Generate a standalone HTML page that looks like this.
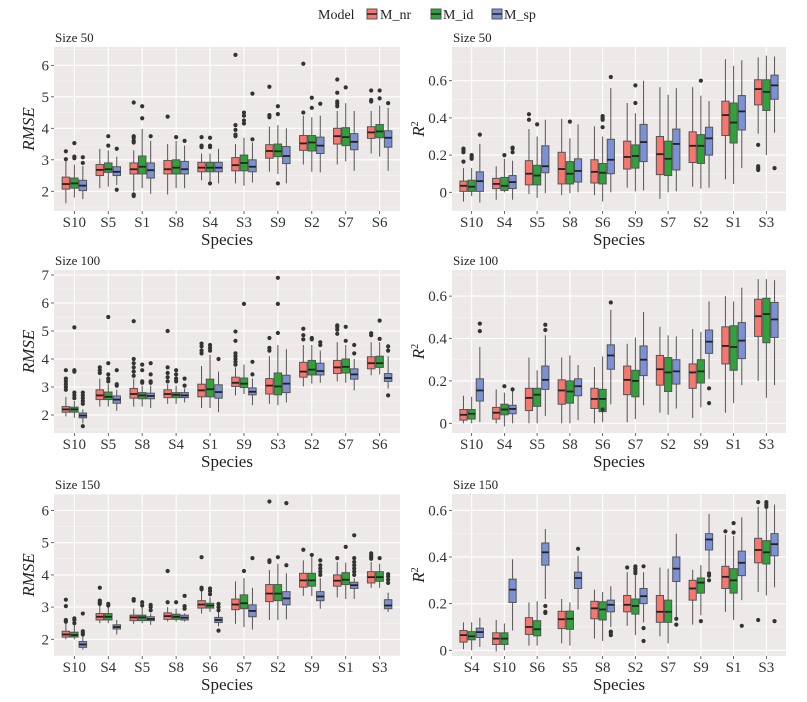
<!DOCTYPE html>
<html><head><meta charset="utf-8">
<style>
html,body{margin:0;padding:0;background:#fff;}
svg{display:block;font-family:"Liberation Serif",serif;}
</style></head>
<body>
<svg id="chart" width="807" height="702" viewBox="0 0 807 702" xmlns="http://www.w3.org/2000/svg">
  <rect x="0" y="0" width="807" height="702" fill="#fff"/>
  <g>
    <text x="318" y="19" font-size="14" fill="#222">Model</text>
    <g>
      <rect x="367" y="9" width="10" height="10" fill="#F8766D" stroke="#555" stroke-width="1"/>
      <line x1="367" y1="14" x2="377" y2="14" stroke="#222" stroke-width="1.5"/>
      <text x="380" y="19" font-size="14" fill="#222">M_nr</text>
    </g>
    <g>
      <rect x="431" y="9" width="10" height="10" fill="#2FA23A" stroke="#555" stroke-width="1"/>
      <line x1="431" y1="14" x2="441" y2="14" stroke="#222" stroke-width="1.5"/>
      <text x="443" y="19" font-size="14" fill="#222">M_id</text>
    </g>
    <g>
      <rect x="492" y="9" width="10" height="10" fill="#7B91D3" stroke="#555" stroke-width="1"/>
      <line x1="492" y1="14" x2="502" y2="14" stroke="#222" stroke-width="1.5"/>
      <text x="504" y="19" font-size="14" fill="#222">M_sp</text>
    </g>
  </g>
  <g id="panels"></g>
</svg>
<script>
// ---- Panel 1: RMSE, Size 50 ----
const p1_cats = ["S10","S5","S1","S8","S4","S3","S9","S2","S7","S6"];
const p1_ticks = [2,3,4,5,6];
const p1_nr = [[1.62,2.07,2.23,2.45,3.0],[2.1,2.5,2.68,2.85,3.35],[2.0,2.55,2.7,2.9,3.3],[1.9,2.55,2.7,2.98,3.5],[2.35,2.62,2.75,2.92,3.2],[2.25,2.65,2.83,3.07,3.5],[2.62,3.05,3.28,3.48,4.05],[2.85,3.3,3.52,3.77,4.4],[2.85,3.5,3.75,4.0,4.55],[3.2,3.68,3.87,4.05,4.55]];
const p1_id = [[1.8,2.1,2.25,2.42,2.85],[2.15,2.6,2.7,2.9,3.3],[2.1,2.55,2.78,3.12,3.98],[2.1,2.55,2.75,3.0,3.6],[2.3,2.62,2.75,2.92,3.2],[2.18,2.65,2.9,3.15,3.7],[2.55,3.1,3.27,3.5,4.1],[2.62,3.28,3.55,3.77,4.35],[2.95,3.45,3.72,4.02,4.8],[3.1,3.7,3.9,4.12,4.72]];
const p1_sp = [[1.75,2.02,2.18,2.35,2.8],[2.2,2.5,2.62,2.78,3.1],[1.92,2.42,2.67,2.9,3.6],[2.1,2.55,2.7,2.95,3.45],[2.25,2.62,2.75,2.92,3.35],[2.28,2.62,2.78,3.0,3.55],[2.25,2.88,3.12,3.42,4.0],[2.6,3.2,3.45,3.72,4.4],[2.65,3.32,3.57,3.83,4.55],[2.65,3.4,3.7,3.92,4.65]];
const p1_nr_out = [[3.02,3.27],[],[1.85,1.9,3.55,3.6,3.7,3.75,4.82],[4.37],[3.4,3.45,3.72],[3.75,3.8,3.95,4.1,6.33],[4.35,4.42,5.32],[4.5,6.05],[4.7,4.78,4.85,5.13,5.55],[4.85,4.9,5.2]];
const p1_id_out = [[3.05,3.1,3.53],[3.45,3.75],[4.32,4.7],[3.72],[2.25,3.4,3.45,3.7],[4.15,4.25,4.4,4.5],[2.25,4.45,4.7],[4.65,4.97],[5.3],[4.95,5.2]];
const p1_sp_out = [[2.9,3.08],[2.05,3.35],[3.75],[3.6],[],[3.65,5.1],[],[4.78],[],[4.8]];

// ---- Panel 2: R2, Size 50 ----
const p2_cats = ["S10","S4","S5","S8","S6","S9","S7","S2","S1","S3"];
const p2_ticks = [0,0.2,0.4,0.6];
const p2_nr = [[-0.05,0.005,0.035,0.06,0.13],[-0.04,0.02,0.045,0.075,0.14],[-0.01,0.04,0.1,0.17,0.34],[-0.015,0.045,0.125,0.215,0.395],[-0.015,0.05,0.11,0.175,0.355],[0.025,0.125,0.19,0.275,0.48],[-0.035,0.095,0.205,0.3,0.565],[0.03,0.16,0.25,0.325,0.565],[0.07,0.305,0.415,0.49,0.715],[0.315,0.47,0.555,0.605,0.725]];
const p2_id = [[-0.02,0.005,0.03,0.065,0.13],[0.0,0.01,0.035,0.08,0.18],[-0.03,0.04,0.09,0.145,0.3],[-0.005,0.045,0.1,0.165,0.29],[-0.05,0.045,0.105,0.155,0.3],[0.005,0.13,0.195,0.255,0.425],[0.0,0.09,0.18,0.275,0.525],[0.02,0.155,0.25,0.31,0.52],[0.045,0.265,0.375,0.48,0.68],[0.2,0.44,0.54,0.605,0.735]];
const p2_sp = [[-0.055,0.005,0.06,0.11,0.26],[-0.04,0.02,0.055,0.09,0.17],[-0.005,0.105,0.14,0.25,0.39],[0.0,0.055,0.115,0.18,0.365],[0.0,0.1,0.175,0.285,0.56],[0.01,0.165,0.27,0.365,0.6],[0.005,0.12,0.26,0.34,0.56],[0.025,0.2,0.29,0.35,0.49],[0.13,0.335,0.435,0.52,0.71],[0.32,0.5,0.575,0.63,0.73]];
const p2_nr_out = [[0.165,0.215,0.225,0.235],[],[0.39,0.42],[],[],[],[],[],[],[0.12,0.13,0.14,0.255]];
const p2_id_out = [[0.18,0.19,0.2],[0.2],[0.365],[0.38],[0.35,0.39,0.4,0.41],[0.48,0.575],[],[0.6],[],[]];
const p2_sp_out = [[0.31],[0.215,0.235,0.24],[],[],[0.62],[],[],[],[],[0.13]];

// ---- Panel 3: RMSE, Size 100 ----
const p3_cats = ["S10","S5","S8","S4","S1","S9","S3","S2","S7","S6"];
const p3_ticks = [2,3,4,5,6,7];
const p3_nr = [[1.95,2.1,2.2,2.3,2.65],[2.3,2.55,2.7,2.9,3.3],[2.3,2.6,2.75,2.95,3.3],[2.4,2.62,2.75,2.9,3.1],[2.25,2.65,2.88,3.1,3.75],[2.7,3.02,3.15,3.35,3.7],[2.4,2.75,3.05,3.3,4.1],[3.02,3.35,3.55,3.88,4.5],[3.2,3.48,3.7,3.95,4.6],[3.42,3.65,3.85,4.08,4.6]];
const p3_id = [[1.9,2.1,2.2,2.28,2.5],[2.3,2.55,2.65,2.82,3.1],[2.3,2.58,2.7,2.8,3.05],[2.4,2.62,2.72,2.8,3.05],[2.25,2.65,2.92,3.28,4.15],[2.75,2.98,3.12,3.32,3.8],[2.35,2.72,3.02,3.5,4.5],[3.12,3.43,3.62,3.95,4.5],[3.15,3.5,3.72,4.0,4.5],[3.45,3.7,3.85,4.1,4.6]];
const p3_sp = [[1.7,1.9,1.98,2.07,2.2],[2.15,2.42,2.55,2.68,2.9],[2.25,2.58,2.68,2.78,3.05],[2.45,2.62,2.7,2.8,2.95],[2.1,2.6,2.82,3.08,3.55],[2.35,2.72,2.83,2.97,3.3],[2.45,2.8,3.12,3.42,4.35],[3.15,3.43,3.57,3.85,4.3],[2.88,3.28,3.45,3.65,4.0],[2.95,3.2,3.32,3.48,4.1]];
const p3_nr_out = [[2.9,3.0,3.1,3.2,3.3,3.6],[3.5,3.6,3.7],[3.4,3.55,3.7,3.85,4.0,5.35],[3.2,3.35,3.5,3.7,5.0],[4.2,4.3,4.45,4.55],[3.8,3.9,4.0,4.1,4.2,4.65,4.98],[4.3,4.4,4.75],[4.7,4.85,5.08],[4.9,5.05,5.15,5.2],[4.85,4.92]];
const p3_id_out = [[2.6,2.7,2.8,3.55,3.6,5.13],[3.2,3.3,3.45,3.85,5.5],[3.15,3.2,3.6,3.8],[3.2,3.3,3.45,3.6],[4.3,4.4,4.5],[5.97],[4.93,5.97,6.9],[4.7,4.75],[4.65,5.15],[4.72,5.37]];
const p3_sp_out = [[1.6,2.4,2.5,2.6,2.7,2.8],[3.05,3.1,3.6],[3.15,3.2,3.45,3.85],[3.05,3.3],[4.0],[3.45,3.9],[],[4.5,4.6],[4.2,4.5],[2.7,4.3,4.45]];

// ---- Panel 4: R2, Size 100 ----
const p4_cats = ["S10","S4","S5","S8","S6","S7","S2","S9","S1","S3"];
const p4_ticks = [0,0.2,0.4,0.6];
const p4_nr = [[0.0,0.015,0.04,0.065,0.13],[0.0,0.02,0.05,0.075,0.16],[0.0,0.06,0.12,0.165,0.31],[0.0,0.09,0.155,0.205,0.31],[0.0,0.07,0.115,0.165,0.265],[0.005,0.135,0.205,0.27,0.375],[0.05,0.18,0.255,0.32,0.455],[0.025,0.165,0.24,0.28,0.445],[0.05,0.28,0.365,0.455,0.6],[0.2,0.41,0.505,0.585,0.68]];
const p4_id = [[0.0,0.02,0.045,0.065,0.125],[-0.015,0.04,0.065,0.09,0.145],[0.0,0.08,0.135,0.165,0.25],[0.0,0.095,0.15,0.2,0.32],[0.005,0.055,0.115,0.16,0.315],[0.02,0.125,0.2,0.25,0.405],[0.04,0.15,0.24,0.31,0.415],[0.075,0.19,0.245,0.3,0.43],[0.095,0.25,0.36,0.46,0.575],[0.12,0.38,0.515,0.59,0.68]];
const p4_sp = [[0.005,0.105,0.155,0.21,0.36],[0.0,0.045,0.068,0.085,0.16],[0.035,0.16,0.205,0.27,0.415],[0.015,0.13,0.175,0.21,0.275],[0.09,0.255,0.32,0.37,0.535],[0.085,0.225,0.3,0.365,0.525],[0.07,0.185,0.245,0.3,0.41],[0.21,0.33,0.385,0.44,0.575],[0.18,0.305,0.39,0.475,0.64],[0.18,0.405,0.49,0.57,0.675]];
const p4_nr_out = [[],[],[],[],[],[],[],[],[],[]];
const p4_id_out = [[],[0.175],[],[],[0.065],[],[],[],[],[]];
const p4_sp_out = [[0.435,0.47],[0.16],[0.44,0.465],[],[0.57],[],[],[0.095,0.165],[],[]];

// ---- Panel 5: RMSE, Size 150 ----
const p5_cats = ["S10","S4","S5","S8","S6","S7","S2","S9","S1","S3"];
const p5_ticks = [2,3,4,5,6];
const p5_nr = [[2.0,2.07,2.15,2.25,2.5],[2.5,2.6,2.7,2.8,3.05],[2.48,2.58,2.68,2.75,2.95],[2.55,2.62,2.72,2.82,3.0],[2.8,2.97,3.08,3.2,3.5],[2.48,2.92,3.08,3.25,3.8],[2.6,3.17,3.42,3.7,4.15],[3.35,3.62,3.83,4.05,4.45],[3.3,3.65,3.82,4.0,4.4],[3.6,3.75,3.93,4.1,4.4]];
const p5_id = [[2.0,2.07,2.13,2.22,2.45],[2.5,2.6,2.7,2.8,3.0],[2.5,2.58,2.68,2.75,2.98],[2.55,2.62,2.7,2.78,2.95],[2.85,2.97,3.05,3.12,3.3],[2.38,2.95,3.12,3.38,3.9],[2.6,3.2,3.42,3.7,4.35],[3.35,3.65,3.83,4.05,4.55],[3.25,3.7,3.85,4.07,4.38],[3.6,3.8,3.93,4.1,4.35]];
const p5_sp = [[1.68,1.75,1.84,1.93,2.1],[2.15,2.32,2.38,2.45,2.6],[2.45,2.58,2.63,2.7,2.8],[2.55,2.6,2.67,2.75,2.8],[2.4,2.52,2.6,2.68,2.85],[2.3,2.7,2.88,3.07,3.6],[2.62,3.07,3.27,3.48,4.05],[2.95,3.2,3.33,3.48,3.9],[3.25,3.58,3.68,3.77,3.9],[2.85,2.95,3.05,3.23,3.45]];
const p5_nr_out = [[2.55,2.6,3.03,3.23],[3.1,3.15,3.2,3.6],[3.2,3.25],[3.15,4.12],[3.55,3.6,4.55],[],[4.4,4.45,6.28],[4.78],[4.52],[4.5,4.55,4.6,4.67]];
const p5_id_out = [[2.5,2.6,2.65],[3.05,3.1],[3.05,3.15],[3.15],[3.4,3.5,3.58],[4.12],[4.55],[4.62],[4.87],[4.52]];
const p5_sp_out = [[2.15,2.2,2.25,2.8],[],[2.9,3.0,3.07],[2.95,3.03,3.35],[2.27,2.9,3.0,3.1],[4.52],[4.3,6.23],[4.0,4.1,4.2,4.3,4.45],[4.0,4.1,4.2,4.3,4.4,4.52,5.23],[3.75,3.85,3.95,4.02]];

// ---- Panel 6: R2, Size 150 ----
const p6_cats = ["S4","S10","S6","S5","S8","S2","S7","S9","S1","S3"];
const p6_ticks = [0,0.2,0.4,0.6];
const p6_nr = [[0.005,0.035,0.065,0.085,0.12],[-0.005,0.025,0.05,0.075,0.13],[0.02,0.068,0.1,0.14,0.205],[0.03,0.093,0.133,0.167,0.22],[0.05,0.135,0.18,0.21,0.26],[0.105,0.165,0.195,0.235,0.335],[0.06,0.12,0.165,0.235,0.355],[0.11,0.215,0.265,0.3,0.345],[0.165,0.265,0.315,0.36,0.495],[0.25,0.375,0.43,0.48,0.615]];
const p6_id = [[0.0,0.045,0.06,0.08,0.12],[0.0,0.025,0.05,0.075,0.115],[0.02,0.062,0.09,0.127,0.21],[0.02,0.09,0.135,0.168,0.205],[0.04,0.13,0.175,0.208,0.25],[0.065,0.155,0.19,0.22,0.32],[0.03,0.12,0.165,0.215,0.35],[0.15,0.245,0.29,0.31,0.365],[0.13,0.245,0.3,0.35,0.49],[0.235,0.37,0.42,0.47,0.61]];
const p6_sp = [[0.015,0.055,0.078,0.095,0.14],[0.085,0.205,0.26,0.305,0.39],[0.22,0.365,0.42,0.46,0.52],[0.175,0.265,0.31,0.335,0.405],[0.1,0.165,0.195,0.215,0.275],[0.12,0.2,0.232,0.265,0.335],[0.14,0.295,0.35,0.4,0.5],[0.34,0.43,0.475,0.5,0.585],[0.215,0.32,0.375,0.425,0.57],[0.27,0.405,0.455,0.5,0.625]];
const p6_nr_out = [[],[],[],[],[],[0.355],[],[],[0.51],[0.13,0.635]];
const p6_id_out = [[],[],[],[],[],[0.33,0.34,0.35,0.36],[],[0.125],[0.505,0.545],[0.615,0.625,0.635]];
const p6_sp_out = [[],[],[0.16,0.165,0.19],[0.435],[0.065,0.075,0.08],[0.04,0.095,0.36],[0.11,0.135],[0.3,0.32,0.33],[0.105],[0.125]];

const NS = "http://www.w3.org/2000/svg";
const COLORS = ["#F8766D","#2FA23A","#7B91D3"];
const MODEL_NAMES = ["m-nr","m-id","m-sp"];

function mk(tag, attrs, parent){
  const el = document.createElementNS(NS, tag);
  for (const k in attrs) el.setAttribute(k, attrs[k]);
  parent.appendChild(el);
  return el;
}

function drawPanel(cfg){
  const root = document.getElementById("panels");
  const g = mk("g", {}, root);
  
  
  const L = cfg.x0, R = cfg.x1, T = cfg.top, B = cfg.bottom;
  const n = cfg.cats.length;
  const band = (R - L) / (n + 0.2);
  const xc = i => L + band * (0.6 + i);
  const ys = v => cfg.yRef - (v - cfg.vRef) * cfg.pxPerUnit;

  const bg = mk("rect", {x:L, y:T, width:R-L, height:B-T, fill:"#ECE9E8"}, g);
  
  

  const step = cfg.ticks[1] - cfg.ticks[0];
  const vmin = cfg.vRef - (B - cfg.yRef) / cfg.pxPerUnit;
  const vmax = cfg.vRef + (cfg.yRef - T) / cfg.pxPerUnit;
  for (let v = cfg.ticks[0] - step/2; v <= vmax; v += step){
    if (v < vmin) continue;
    const ln = mk("line", {x1:L, x2:R, y1:ys(v), y2:ys(v), stroke:"#F7F6F5", "stroke-width":0.6}, g);
    
    
  }
  cfg.ticks.forEach(t => {
    const y = ys(t);
    const ln = mk("line", {x1:L, x2:R, y1:y, y2:y, stroke:"#fff", "stroke-width":1.1}, g);
    
    
    const tk = mk("line", {x1:L-3, x2:L, y1:y, y2:y, stroke:"#444", "stroke-width":0.8}, g);
    
    
    const tx = mk("text", {x:L-5, y:y+5, "text-anchor":"end", "font-size":15, fill:"#333"}, g);
    
    
    tx.textContent = String(t);
  });
  cfg.cats.forEach((c, i) => {
    const x = xc(i);
    const ln = mk("line", {x1:x, x2:x, y1:T, y2:B, stroke:"#fff", "stroke-width":1.1}, g);
    
    
    const tk = mk("line", {x1:x, x2:x, y1:B, y2:B+3, stroke:"#444", "stroke-width":0.8}, g);
    
    
    const tx = mk("text", {x:x, y:B+16, "text-anchor":"middle", "font-size":15, fill:"#333"}, g);
    
    
    tx.textContent = c;
  });

  const series = [cfg.nr, cfg.id, cfg.sp];
  const outs = [cfg.nrOut, cfg.idOut, cfg.spOut];
  const gw = band * 0.75, bw = gw / 3;
  cfg.cats.forEach((c, i) => {
    for (let m = 0; m < 3; m++){
      const s = series[m][i];
      const cx = xc(i) - gw/2 + bw*(m + 0.5);
      const bx = mk("g", {}, g);
      
      
      mk("line", {x1:cx, x2:cx, y1:ys(s[0]), y2:ys(s[1]), stroke:"#555", "stroke-width":1}, bx);
      mk("line", {x1:cx, x2:cx, y1:ys(s[3]), y2:ys(s[4]), stroke:"#555", "stroke-width":1}, bx);
      mk("rect", {x:cx-bw/2+0.5, y:ys(s[3]), width:bw-1, height:Math.max(0.5, ys(s[1])-ys(s[3])), fill:COLORS[m], stroke:"#555", "stroke-width":1}, bx);
      mk("line", {x1:cx-bw/2+0.5, x2:cx+bw/2-0.5, y1:ys(s[2]), y2:ys(s[2]), stroke:"#222", "stroke-width":1.8}, bx);
      outs[m][i].forEach(v => {
        mk("circle", {cx:cx, cy:ys(v), r:2.1, fill:"#333"}, bx);
      });
    }
  });

  const st = mk("text", {x:L+1, y:T-5, "font-size":13, fill:"#222"}, g);
  
  
  st.textContent = cfg.title;
  const xt = mk("text", {x:(L+R)/2, y:B+34, "text-anchor":"middle", "font-size":17, fill:"#222"}, g);
  
  
  xt.textContent = "Species";
  const ym = (T+B)/2;
  const yt = mk("text", {x:cfg.ytx, y:ym, "text-anchor":"middle", "font-size":17, fill:"#222", "font-style":"italic", transform:"rotate(-90 "+cfg.ytx+" "+ym+")"}, g);
  
  
  if (cfg.r2){
    yt.textContent = "R";
    const sup = document.createElementNS(NS, "tspan");
    sup.setAttribute("font-size", "10");
    sup.setAttribute("font-style", "normal");
    sup.setAttribute("dy", "-6");
    sup.textContent = "2";
    yt.appendChild(sup);
  } else {
    yt.textContent = "RMSE";
  }
}

drawPanel({id:"rmse-50", title:"Size 50", x0:54, x1:400, top:47, bottom:211, yRef:191.3, vRef:2, pxPerUnit:31.5, ticks:p1_ticks, cats:p1_cats, nr:p1_nr, id:p1_id, sp:p1_sp, nrOut:p1_nr_out, idOut:p1_id_out, spOut:p1_sp_out, ytx:34, r2:false});
drawPanel({id:"r2-50", title:"Size 50", x0:452, x1:786, top:47, bottom:211, yRef:192.3, vRef:0, pxPerUnit:186, ticks:p2_ticks, cats:p2_cats, nr:p2_nr, id:p2_id, sp:p2_sp, nrOut:p2_nr_out, idOut:p2_id_out, spOut:p2_sp_out, ytx:424, r2:true});
drawPanel({id:"rmse-100", title:"Size 100", x0:54, x1:400, top:270, bottom:433, yRef:415, vRef:2, pxPerUnit:28, ticks:p3_ticks, cats:p3_cats, nr:p3_nr, id:p3_id, sp:p3_sp, nrOut:p3_nr_out, idOut:p3_id_out, spOut:p3_sp_out, ytx:34, r2:false});
drawPanel({id:"r2-100", title:"Size 100", x0:452, x1:786, top:270, bottom:433, yRef:423.3, vRef:0, pxPerUnit:212, ticks:p4_ticks, cats:p4_cats, nr:p4_nr, id:p4_id, sp:p4_sp, nrOut:p4_nr_out, idOut:p4_id_out, spOut:p4_sp_out, ytx:424, r2:true});
drawPanel({id:"rmse-150", title:"Size 150", x0:54, x1:400, top:494, bottom:656, yRef:639.3, vRef:2, pxPerUnit:32.2, ticks:p5_ticks, cats:p5_cats, nr:p5_nr, id:p5_id, sp:p5_sp, nrOut:p5_nr_out, idOut:p5_id_out, spOut:p5_sp_out, ytx:34, r2:false});
drawPanel({id:"r2-150", title:"Size 150", x0:452, x1:786, top:494, bottom:656, yRef:650.3, vRef:0, pxPerUnit:233.3, ticks:p6_ticks, cats:p6_cats, nr:p6_nr, id:p6_id, sp:p6_sp, nrOut:p6_nr_out, idOut:p6_id_out, spOut:p6_sp_out, ytx:424, r2:true});
</script>
</body></html>
